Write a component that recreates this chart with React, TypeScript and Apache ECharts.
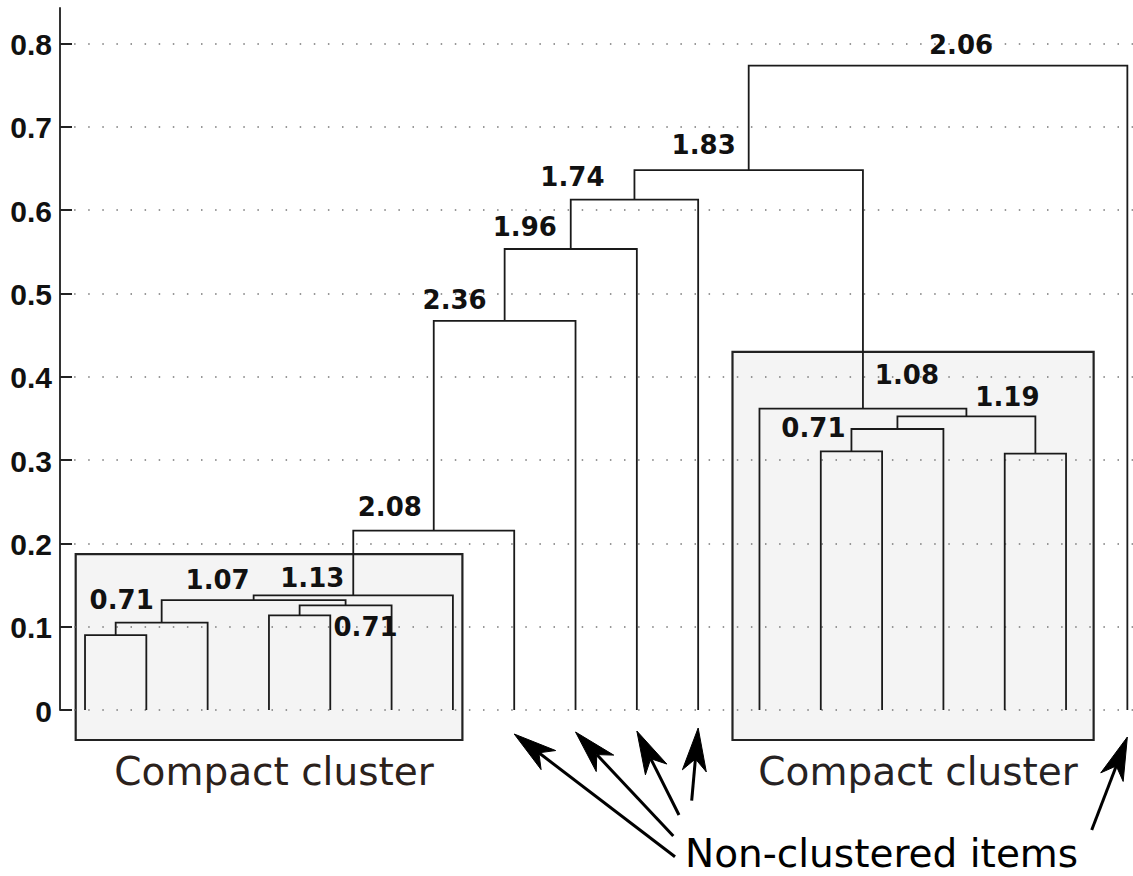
import React, { useEffect, useRef } from "react";
import * as echarts from "echarts";

// ---------- data ----------
const leafIds = [1, 2, 3, 4, 5, 6, 7, 8, 9, 10, 11, 12, 13, 14, 15, 16, 17, 18];
const yTickValues = [0, 0.1, 0.2, 0.3, 0.4, 0.5, 0.6, 0.7, 0.8];
const yTickLabels = ["0", "0.1", "0.2", "0.3", "0.4", "0.5", "0.6", "0.7", "0.8"];

const mergeIds = ["N1", "N2", "N3", "N4", "N5", "N6", "N7", "N8", "N9", "N10", "R1", "R2", "R3", "R4", "R5", "N11", "N12"];
const mergeLeft = ["L1", "N1", "L4", "N3", "N2", "N5", "N6", "N7", "N8", "N9", "L13", "R1", "L16", "R2", "L12", "N10", "N11"];
const mergeRight = ["L2", "L3", "L5", "L6", "N4", "L7", "L8", "L9", "L10", "L11", "L14", "L15", "L17", "R3", "R4", "R5", "L18"];
const mergeHeights = [0.09, 0.105, 0.1136, 0.1256, 0.132, 0.1376, 0.2153, 0.467, 0.5534, 0.6126, 0.3105, 0.3373, 0.3078, 0.3525, 0.3618, 0.648, 0.7735];
const mergeLabels = ["", "0.71", "", "0.71", "1.07", "1.13", "2.08", "2.36", "1.96", "1.74", "0.71", "", "", "1.19", "1.08", "1.83", "2.06"];

const clusterNames = ["Compact cluster", "Compact cluster"];
const clusterFromLeaf = [0.848, 11.56];
const clusterToLeaf = [7.155, 17.45];
const clusterBottom = [-0.036, -0.036];
const clusterTop = [0.187, 0.43];

const nonClusteredLeaves = [8, 9, 10, 11, 18];
const nonClusteredText = "Non-clustered items";

// ---------- layout / styling (pixels) ----------
const X_MIN = 0.592;
const X_MAX = 18.092;
const labelOffsets: Record<string, [number, number]> = {
  N2: [-40, -23],
  N4: [20, 22],
  N5: [-36, -20],
  N6: [-41, -17],
  N7: [-44, -24],
  N8: [-50, -21],
  N9: [-46, -22],
  N10: [-62, -23],
  R1: [-38, -23],
  R4: [41, -19],
  R5: [44, -34],
  N11: [-45, -25],
  N12: [23, -21],
};
const arrowTipDrop = [24, 22, 21, 18, 27];
const arrowTails: [number, number][] = [
  [675, 856.7],
  [673.3, 836],
  [679, 815],
  [691.7, 800.7],
  [1091.7, 830],
];
const clusterTextColors = ["#2b211b", "#262223"];

// build merge geometry from data
function buildMerges() {
  const pos: Record<string, [number, number]> = {};
  leafIds.forEach((l) => (pos["L" + l] = [l, 0]));
  const rows: number[][] = [];
  mergeIds.forEach((id, i) => {
    const a = pos[mergeLeft[i]];
    const b = pos[mergeRight[i]];
    const h = mergeHeights[i];
    pos[id] = [(a[0] + b[0]) / 2, h];
    rows.push([a[0], a[1], b[0], b[1], h, i]);
  });
  return rows;
}

export default function App() {
  const ref = useRef<HTMLDivElement>(null);
  useEffect(() => {
    if (!ref.current) return;
    const chart = echarts.init(ref.current, undefined, { renderer: "svg" });
    const mergeRows = buildMerges();
    const lineColor = "#1a1a1a";

    const option: any = {
      animation: false,
      backgroundColor: "#ffffff",
      grid: { left: 60, right: 0, top: 8, bottom: 166, containLabel: false },
      xAxis: {
        type: "value",
        min: X_MIN,
        max: X_MAX,
        show: false,
      },
      yAxis: {
        type: "value",
        min: 0,
        max: 0.8427,
        axisLine: { show: true, lineStyle: { color: "#333", width: 2 } },
        axisTick: {
          show: true,
          inside: true,
          length: 12,
          customValues: yTickValues,
          lineStyle: { color: "#222", width: 2 },
        },
        axisLabel: { show: false, customValues: yTickValues },
        splitLine: {
          show: true,
          lineStyle: { color: "#777", width: 1.5, type: [1.5, 12.6] },
        },
      },
      series: [
        {
          type: "custom",
          name: "yLabels",
          z: 5,
          clip: false,
          silent: true,
          data: yTickValues.map((v, i) => [X_MIN, v, i]),
          encode: { x: 0, y: 1 },
          renderItem: (params: any, api: any) => {
            const i = api.value(2);
            const p = api.coord([api.value(0), api.value(1)]);
            return {
              type: "text",
              x: p[0] - 8,
              y: p[1] + 1,
              style: {
                text: yTickLabels[i],
                align: "right",
                verticalAlign: "middle",
                font: "bold 30px 'Liberation Sans', Arial, sans-serif",
                fill: "#111",
              },
            };
          },
        },
        {
          type: "custom",
          name: "clusters",
          z: -1,
          clip: false,
          silent: true,
          data: clusterNames.map((n, i) => [clusterFromLeaf[i], clusterToLeaf[i], clusterBottom[i], clusterTop[i], i]),
          encode: { x: [0, 1], y: [2, 3] },
          renderItem: (params: any, api: any) => {
            const i = api.value(4);
            const p0 = api.coord([api.value(0), api.value(3)]);
            const p1 = api.coord([api.value(1), api.value(2)]);
            return {
              type: "group",
              children: [
                {
                  type: "rect",
                  shape: { x: p0[0], y: p0[1], width: p1[0] - p0[0], height: p1[1] - p0[1] },
                  style: { fill: "#f4f4f4", stroke: "#222", lineWidth: 2.2 },
                },
                {
                  type: "text",
                  x: (p0[0] + p1[0]) / 2 + 5,
                  y: p1[1] + 31.5,
                  style: {
                    text: clusterNames[i],
                    align: "center",
                    verticalAlign: "middle",
                    font: "39px 'DejaVu Sans'",
                    fill: clusterTextColors[i],
                  },
                },
              ],
            };
          },
        },
        {
          type: "custom",
          name: "dendrogram",
          z: 3,
          clip: false,
          silent: true,
          data: mergeRows,
          encode: { x: [0, 2], y: [1, 3, 4] },
          renderItem: (params: any, api: any) => {
            const idx = api.value(5);
            const a0 = api.coord([api.value(0), api.value(1)]);
            const a1 = api.coord([api.value(0), api.value(4)]);
            const b1 = api.coord([api.value(2), api.value(4)]);
            const b0 = api.coord([api.value(2), api.value(3)]);
            const children: any[] = [
              {
                type: "polyline",
                shape: { points: [a0, a1, b1, b0] },
                style: { stroke: lineColor, lineWidth: 1.8, fill: "none" },
              },
            ];
            const text = mergeLabels[idx];
            if (text) {
              const off = labelOffsets[mergeIds[idx]] || [0, -20];
              const cx = (a1[0] + b1[0]) / 2;
              children.push({
                type: "text",
                x: cx + off[0],
                y: a1[1] + off[1],
                style: {
                  text,
                  align: "center",
                  verticalAlign: "middle",
                  font: "bold 26px 'DejaVu Sans'",
                  fill: "#111",
                },
              });
            }
            return { type: "group", children };
          },
        },
        {
          type: "custom",
          name: "arrows",
          z: 4,
          clip: false,
          silent: true,
          data: nonClusteredLeaves.map((l, i) => [l, 0, i]),
          encode: { x: 0, y: 1 },
          renderItem: (params: any, api: any) => {
            const i = api.value(2);
            const base = api.coord([api.value(0), 0]);
            const tip = [base[0], base[1] + arrowTipDrop[i]];
            const tail = arrowTails[i];
            const dx = tail[0] - tip[0];
            const dy = tail[1] - tip[1];
            const len = Math.sqrt(dx * dx + dy * dy);
            const ux = dx / len;
            const uy = dy / len;
            const px = -uy;
            const py = ux;
            const headLen = 43;
            const notch = 31;
            const half = 12;
            const b1 = [tip[0] + ux * headLen + px * half, tip[1] + uy * headLen + py * half];
            const b2 = [tip[0] + ux * headLen - px * half, tip[1] + uy * headLen - py * half];
            const n = [tip[0] + ux * notch, tip[1] + uy * notch];
            return {
              type: "group",
              children: [
                {
                  type: "line",
                  shape: { x1: tail[0], y1: tail[1], x2: n[0], y2: n[1] },
                  style: { stroke: "#000", lineWidth: 3 },
                },
                {
                  type: "polygon",
                  shape: { points: [tip, b1, n, b2] },
                  style: { fill: "#000", stroke: "#000", lineWidth: 1 },
                },
              ],
            };
          },
        },
      ],
      graphic: [
        {
          type: "text",
          x: 685,
          y: 853,
          silent: true,
          style: {
            text: nonClusteredText,
            align: "left",
            verticalAlign: "middle",
            font: "39px 'DejaVu Sans'",
            fill: "#000",
          },
        },
      ],
    };
    chart.setOption(option);
    return () => chart.dispose();
  }, []);
  return (
    <div
      ref={ref}
      style={{ position: "absolute", left: 0, top: 0, width: 1133, height: 876, background: "#fff" }}
    />
  );
}
